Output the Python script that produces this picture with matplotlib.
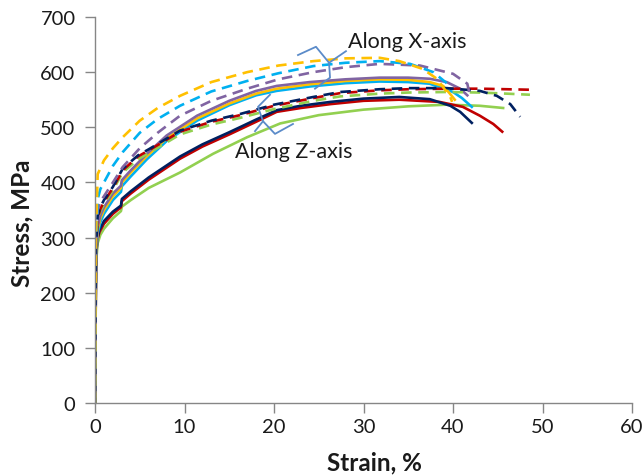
import matplotlib
matplotlib.use("Agg")
import matplotlib.pyplot as plt

plt.rcParams['font.family'] = ['Lato', 'DejaVu Sans']

# ---- specimens along X (dashed / solid) ----
xd_yellow_strain = [0, 0.1, 0.3, 1, 2, 3.1, 5, 7, 9.5, 13, 17, 20.5, 24.4, 28, 31.8, 34, 36.6, 38.2, 39.7, 39.9]
xd_yellow_stress = [0, 300, 415, 440, 462, 482, 512, 535, 557, 582, 600, 612, 620, 625, 626, 620, 606, 588, 555, 546]

xd_blue_strain = [0, 0.1, 0.3, 0.6, 1, 2, 3.1, 5, 7, 9.5, 13, 17, 20.5, 24.4, 28, 31.8, 35.2, 37.8, 39.3]
xd_blue_stress = [0, 290, 370, 388, 400, 430, 455, 490, 515, 539, 565, 584, 598, 611, 617, 620, 615, 600, 580]

xd_purple_strain = [0, 0.1, 0.3, 0.6, 1, 2, 3.1, 5, 7, 9.5, 13, 17, 20.5, 24.4, 28, 31.8, 36.3, 40, 41.6, 41.9]
xd_purple_stress = [0, 280, 350, 365, 375, 400, 428, 462, 490, 521, 548, 570, 587, 600, 609, 615, 612, 597, 579, 557]

xs_purple_strain = [0, 0.1, 0.3, 0.6, 1, 2, 2.9, 3.0, 4, 5.8, 8, 11.4, 15, 18, 20.3, 24, 28, 31.8, 35, 37.4, 39.3, 40.8, 41.6]
xs_purple_stress = [0, 270, 320, 340, 355, 380, 394, 404, 422, 452, 485, 521, 548, 566, 575, 582, 587, 590, 590, 588, 582, 570, 558]

xs_yellow_strain = [0, 0.1, 0.3, 0.6, 1, 2, 2.9, 3.0, 4, 5.8, 8, 11.4, 15, 18, 20.3, 24, 28, 31.8, 35, 37.4, 38.9, 39.6, 40.2]
xs_yellow_stress = [0, 265, 315, 335, 350, 375, 390, 400, 418, 448, 480, 516, 543, 561, 570, 578, 584, 587, 586, 582, 575, 562, 550]

xs_blue_strain = [0, 0.1, 0.3, 0.6, 1, 2, 2.9, 3.0, 4, 5.8, 8, 11.4, 15, 18, 20.3, 24, 28, 31.8, 35, 37.4, 40, 41, 42.1]
xs_blue_stress = [0, 260, 308, 328, 343, 368, 383, 393, 411, 442, 475, 512, 540, 558, 566, 574, 580, 583, 582, 579, 564, 553, 537]

# ---- specimens along Z (dashed / solid) ----
zd_navy_strain = [0, 0.1, 0.3, 0.6, 1, 2, 3.1, 4.8, 6.1, 9.5, 13, 16.2, 20, 24.4, 27.4, 31.8, 35, 39.3, 43, 44.9, 46.4, 47.5]
zd_navy_stress = [0, 280, 340, 355, 368, 392, 425, 449, 461, 494, 512, 524, 541, 555, 564, 569, 571, 571, 566, 557, 542, 519]

zd_red_strain = [0, 0.1, 0.3, 0.6, 1, 2, 3.1, 4.8, 6.1, 9.5, 13, 16.2, 20, 24.4, 27.4, 31.8, 35, 39.3, 43, 46, 48.9]
zd_red_stress = [0, 275, 335, 352, 365, 390, 422, 447, 459, 492, 510, 522, 539, 553, 562, 567, 569, 570, 570, 569, 568]

zd_green_strain = [0, 0.1, 0.3, 0.6, 1, 2, 3.1, 4.8, 6.1, 9.5, 13, 16.2, 20, 24.4, 27.4, 31.8, 35, 39.3, 43, 46, 48.6]
zd_green_stress = [0, 270, 330, 348, 360, 386, 418, 442, 454, 487, 505, 517, 533, 548, 556, 561, 563, 564, 563, 561, 559]

zs_navy_strain = [0, 0.12, 0.25, 0.5, 1, 2, 2.9, 3.0, 4, 6, 9.5, 12, 15, 18, 20.3, 23, 26.3, 30, 34, 37.4, 39.7, 40.8, 42.1]
zs_navy_stress = [0, 265, 298, 314, 330, 347, 358, 370, 384, 409, 447, 469, 491, 514, 531, 539, 546, 552, 555, 551, 539, 528, 508]

zs_red_strain = [0, 0.12, 0.25, 0.5, 1, 2, 2.9, 3.0, 4, 6, 9.5, 12, 15, 18, 20.3, 23, 26.3, 30, 34, 38.5, 41.1, 43, 44.5, 45.5]
zs_red_stress = [0, 260, 295, 310, 325, 343, 355, 366, 380, 405, 443, 465, 487, 510, 528, 535, 542, 548, 550, 546, 537, 521, 506, 492]

zs_green_strain = [0, 0.12, 0.3, 0.6, 1, 2, 2.9, 3.0, 4, 6, 9.5, 13.2, 17, 20.7, 25, 30, 35, 39.3, 43, 45.6]
zs_green_stress = [0, 255, 290, 305, 316, 335, 348, 356, 368, 390, 418, 452, 482, 507, 522, 532, 538, 541, 539, 535]

x_ticks = [0, 10, 20, 30, 40, 50, 60]
y_ticks = [0, 100, 200, 300, 400, 500, 600, 700]

YELLOW = '#FFC000'
BLUE = '#00B0F0'
PURPLE = '#8064A2'
NAVY = '#002060'
RED = '#C00000'
GREEN = '#92D050'
BRACE = '#5B8BC9'
INK = '#1a1a1a'

fig = plt.figure(figsize=(6.44, 4.77), dpi=100)
ax = fig.add_axes([95 / 644, 73 / 477, 537 / 644, 386 / 477])

lw = 1.9
dash = (0, (4, 2.5))

ax.plot(zs_green_strain, zs_green_stress, color=GREEN, lw=lw)
ax.plot(zs_red_strain, zs_red_stress, color=RED, lw=lw)
ax.plot(zs_navy_strain, zs_navy_stress, color=NAVY, lw=lw)
ax.plot(xs_blue_strain, xs_blue_stress, color=BLUE, lw=lw)
ax.plot(xs_yellow_strain, xs_yellow_stress, color=YELLOW, lw=lw)
ax.plot(xs_purple_strain, xs_purple_stress, color=PURPLE, lw=lw)

ax.plot(zd_green_strain, zd_green_stress, color=GREEN, lw=lw, linestyle=dash)
ax.plot(zd_red_strain, zd_red_stress, color=RED, lw=lw, linestyle=dash)
ax.plot(zd_navy_strain, zd_navy_stress, color=NAVY, lw=lw, linestyle=(2, (4, 2.5)))
ax.plot(xd_purple_strain, xd_purple_stress, color=PURPLE, lw=lw, linestyle=dash)
ax.plot(xd_blue_strain, xd_blue_stress, color=BLUE, lw=lw, linestyle=dash)
ax.plot(xd_yellow_strain, xd_yellow_stress, color=YELLOW, lw=lw, linestyle=dash)

# group braces
ax.plot([22.68, 24.69, 26.15, 26.26, 24.58], [631, 646, 617, 590, 570], color=BRACE, lw=1.3)
ax.plot([26.15, 28.04], [617, 638], color=BRACE, lw=1.3)
ax.plot([19.55, 18.21, 18.77, 20.11, 22.12], [559, 537, 511, 488, 506], color=BRACE, lw=1.3)
ax.plot([18.77, 17.88], [511, 493], color=BRACE, lw=1.3)

ax.text(28.27, 656, 'Along X-axis', fontsize=15.5, color=INK, va='center', ha='left')
ax.text(15.64, 457, 'Along Z-axis', fontsize=15.5, color=INK, va='center', ha='left')

ax.set_xlim(0, 60)
ax.set_ylim(0, 700)
ax.set_xticks(x_ticks)
ax.set_yticks(y_ticks)
ax.tick_params(axis='both', direction='out', length=7, width=1, color='#868686',
               labelsize=14.5, labelcolor=INK)
ax.tick_params(axis='y', pad=7)
ax.tick_params(axis='x', pad=4)
for side in ('top', 'right'):
    ax.spines[side].set_visible(False)
for side in ('left', 'bottom'):
    ax.spines[side].set_color('#868686')
    ax.spines[side].set_linewidth(1)

ax.set_xlabel('Strain, %', fontsize=17.5, fontweight='bold', color=INK)
ax.set_ylabel('Stress, MPa', fontsize=17.5, fontweight='bold', color=INK)
ax.xaxis.label.set_va('center')
ax.yaxis.label.set_va('center')
ax.xaxis.set_label_coords((374 - 95) / 537, (404 - 463) / 386)
ax.yaxis.set_label_coords((22 - 95) / 537, (404 - 223) / 386)

fig.savefig('out.png', dpi=100)
